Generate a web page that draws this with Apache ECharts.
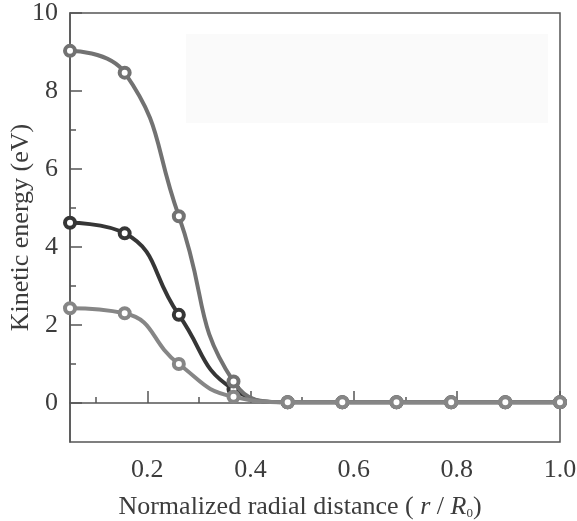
<!DOCTYPE html>
<html>
<head>
<meta charset="utf-8">
<title></title>
    <style>
        * {
            margin: 0;
            padding: 0;
        }
        #main {
            width: 577px;
            height: 521px;
        }
    </style>
</head>
<body>
<div id="main"></div>
<script src="https://cdn.jsdelivr.net/npm/echarts@6/dist/echarts.min.js"></script>
<script>
    // normalized radial distance r / R0
    var radius = [0.05, 0.156, 0.261, 0.367, 0.472, 0.578, 0.683, 0.789, 0.894, 1.0];
    // kinetic energy (eV), three curves
    var energyHigh = [9.03, 8.47, 4.79, 0.55, 0.02, 0.02, 0.02, 0.02, 0.02, 0.02];
    var energyMid = [4.62, 4.35, 2.26, 0.35, 0.02, 0.02, 0.02, 0.02, 0.02, 0.02];
    var energyLow = [2.43, 2.30, 1.00, 0.16, 0.02, 0.02, 0.02, 0.02, 0.02, 0.02];

    var xMajor = [0.2, 0.4, 0.6, 0.8, 1.0];
    var xMinor = [0.1, 0.3, 0.5, 0.7, 0.9];
    var yMajor = [0, 2, 4, 6, 8, 10];
    var yMinor = [1, 3, 5, 7, 9];

    var font = "'Liberation Serif', 'Times New Roman', serif";
    var textColor = '#3c3c3c';
    var frameColor = '#555';

    function pairs(ys) {
        return radius.map(function (x, i) { return [x, ys[i]]; });
    }

    function line(name, data, color, z) {
        return {
            name: name,
            type: 'line',
            data: pairs(data),
            smooth: 0.5,
            smoothConstraint: false,
            z: z,
            symbol: 'circle',
            symbolSize: 10,
            lineStyle: { color: color, width: 4 },
            itemStyle: { color: '#fff', borderColor: color, borderWidth: 4 }
        };
    }

    var myChart = echarts.init(document.getElementById('main'));
    var option = {
        animation: false,
        backgroundColor: '#fff',
        grid: {
            left: 70, right: 17, top: 13, bottom: 79,
            outerBoundsMode: 'none',
            containLabel: false,
            show: true, borderColor: frameColor, borderWidth: 1.5,
            backgroundColor: 'transparent'
        },
        graphic: [{
            type: 'rect', left: 186, top: 34, z: -1,
            shape: { width: 362, height: 89 },
            style: { fill: '#fafafa' }
        }],
        xAxis: [{
            type: 'value', min: 0.05, max: 1.0,
            name: '{t|Normalized radial distance ( }{i|r}{t| / }{i|R}{s|0}{t|)}',
            nameLocation: 'middle', nameGap: 52, nameMoveOverlap: false,
            nameTextStyle: {
                padding: [0, 30, 0, 0],
                rich: {
                    t: { fontFamily: font, fontSize: 26, color: textColor },
                    i: { fontFamily: font, fontSize: 26, fontStyle: 'italic', color: textColor },
                    s: { fontFamily: font, fontSize: 13, color: textColor, padding: [13, 0, 0, 0] }
                }
            },
            axisLine: { lineStyle: { color: frameColor, width: 1.5 } },
            axisTick: { inside: true, length: 12, customValues: xMajor, lineStyle: { color: frameColor, width: 1.5 } },
            axisLabel: {
                customValues: xMajor, margin: 15,
                fontFamily: font, fontSize: 26, color: textColor,
                formatter: function (v) { return v.toFixed(1); }
            },
            splitLine: { show: false }
        }, {
            type: 'value', min: 0.05, max: 1.0, position: 'bottom', offset: 0,
            axisLine: { show: false },
            axisTick: { inside: true, length: 6, customValues: xMinor, lineStyle: { color: frameColor, width: 1.5 } },
            axisLabel: { show: false },
            splitLine: { show: false }
        }],
        yAxis: [{
            type: 'value', min: -1, max: 10,
            name: 'Kinetic energy (eV)',
            nameLocation: 'middle', nameGap: 36, nameMoveOverlap: false,
            nameTextStyle: { fontFamily: font, fontSize: 26, color: textColor },
            axisLine: { lineStyle: { color: frameColor, width: 1.5 } },
            axisTick: { inside: true, length: 12, customValues: yMajor, lineStyle: { color: frameColor, width: 1.5 } },
            axisLabel: {
                customValues: yMajor, margin: 12,
                fontFamily: font, fontSize: 26, color: textColor
            },
            splitLine: { show: false }
        }, {
            type: 'value', min: -1, max: 10, position: 'left', offset: 0,
            axisLine: { show: false },
            axisTick: { inside: true, length: 6, customValues: yMinor, lineStyle: { color: frameColor, width: 1.5 } },
            axisLabel: { show: false },
            splitLine: { show: false }
        }],
        series: [
            line('mid', energyMid, '#363636', 3),
            line('high', energyHigh, '#727272', 4),
            line('low', energyLow, '#868686', 5)
        ]
    };
    myChart.setOption(option);
</script>
</body>
</html>
